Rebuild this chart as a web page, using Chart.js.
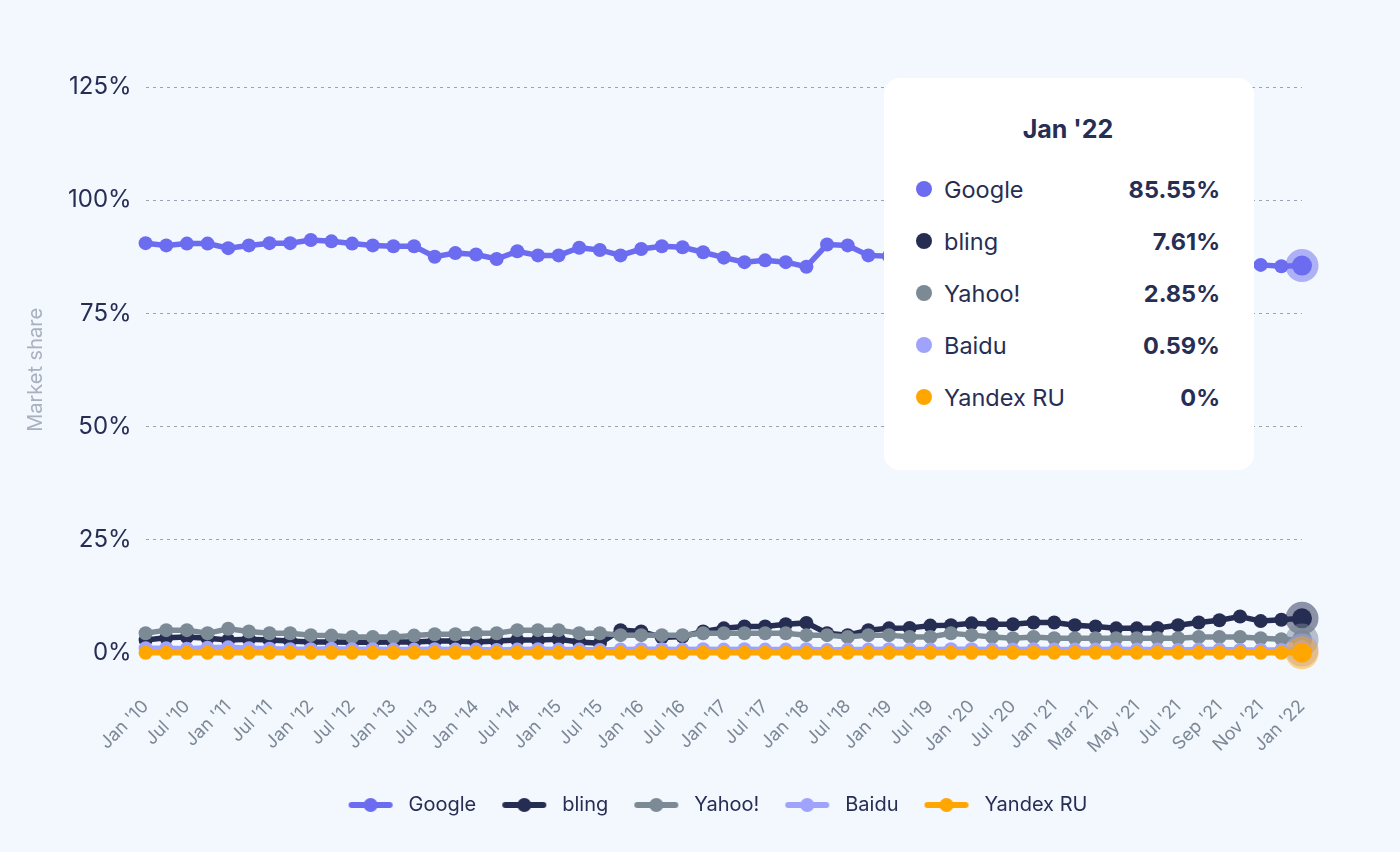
<!DOCTYPE html>
<html>
<head>
<meta charset="utf-8">
<script src="https://cdn.jsdelivr.net/npm/chart.js@4.4.1/dist/chart.umd.min.js"></script>
<style>
  html, body { margin: 0; padding: 0; background: #f3f7fe; }
  #wrap { position: relative; width: 1400px; height: 852px; }
  #chartTooltip {
    position: absolute; width: 370px; box-sizing: border-box;
    padding: 36px 34px 47px 32px; background: #ffffff; border-radius: 16px;
    font-family: Inter, sans-serif; color: #272e54; pointer-events: none;
  }
  #chartTooltip .tt-title { text-align: center; font-weight: 700; font-size: 25px; line-height: 30px; margin-bottom: 19px; }
  #chartTooltip .tt-row { display: flex; align-items: center; height: 52px; font-size: 23.5px; }
  #chartTooltip .tt-dot { width: 16px; height: 16px; border-radius: 50%; margin-right: 12px; }
  #chartTooltip .tt-name { flex: 1; }
  #chartTooltip .tt-val { font-weight: 700; }
</style>
</head>
<body>
<div id="wrap">
  <canvas id="myChart"></canvas>
  <div id="chartTooltip"></div>
</div>
<script>
/* categories: quarterly until Jan '21, then monthly */
const categories = [
  "Jan '10", "Apr '10", "Jul '10", "Oct '10", "Jan '11", "Apr '11", "Jul '11", "Oct '11",
  "Jan '12", "Apr '12", "Jul '12", "Oct '12", "Jan '13", "Apr '13", "Jul '13", "Oct '13",
  "Jan '14", "Apr '14", "Jul '14", "Oct '14", "Jan '15", "Apr '15", "Jul '15", "Oct '15",
  "Jan '16", "Apr '16", "Jul '16", "Oct '16", "Jan '17", "Apr '17", "Jul '17", "Oct '17",
  "Jan '18", "Apr '18", "Jul '18", "Oct '18", "Jan '19", "Apr '19", "Jul '19", "Oct '19",
  "Jan '20", "Apr '20", "Jul '20", "Oct '20", "Jan '21", "Feb '21", "Mar '21", "Apr '21",
  "May '21", "Jun '21", "Jul '21", "Aug '21", "Sep '21", "Oct '21", "Nov '21", "Dec '21",
  "Jan '22"
];

/* market share in % */
const google = [
  90.5, 90.0, 90.4, 90.4, 89.4, 90.0, 90.5, 90.5, 91.2, 90.9, 90.4, 90.0, 89.8, 89.8, 87.5, 88.3,
  88.0, 87.0, 88.7, 87.8, 87.8, 89.5, 89.0, 87.8, 89.2, 89.8, 89.6, 88.5, 87.3, 86.3, 86.7, 86.3,
  85.3, 90.2, 90.0, 87.8, 87.6, 88.3, 87.2, 86.8, 87.9, 88.4, 87.7, 87.0, 86.6, 87.1, 86.4, 86.9,
  87.2, 86.5, 86.0, 86.4, 85.8, 86.1, 85.7, 85.4, 85.55
];
const bling = [
  2.8, 3.3, 3.5, 3.2, 2.8, 3.0, 2.8, 2.6, 2.4, 2.4, 2.3, 2.3, 2.4, 2.4, 2.6, 2.6,
  2.4, 2.6, 2.8, 2.8, 3.0, 2.4, 2.1, 5.0, 4.7, 3.4, 3.6, 4.7, 5.4, 5.8, 5.8, 6.3,
  6.6, 4.3, 3.9, 5.0, 5.4, 5.5, 6.0, 6.1, 6.5, 6.3, 6.3, 6.7, 6.7, 6.1, 5.8, 5.4,
  5.4, 5.5, 6.1, 6.7, 7.2, 8.0, 7.0, 7.3, 7.61
];
const yahoo = [
  4.3, 5.0, 5.0, 4.3, 5.3, 4.7, 4.3, 4.3, 3.9, 3.8, 3.5, 3.5, 3.5, 3.8, 4.1, 4.1,
  4.3, 4.3, 5.0, 5.0, 5.0, 4.3, 4.3, 3.9, 3.9, 3.9, 3.9, 4.3, 4.3, 4.3, 4.3, 4.3,
  3.9, 3.9, 3.5, 3.9, 3.9, 3.5, 3.5, 4.3, 3.9, 3.5, 3.2, 3.5, 3.2, 3.2, 3.2, 3.2,
  3.2, 3.2, 3.2, 3.5, 3.5, 3.5, 3.2, 3.0, 2.85
];
const baidu = [
  1.0, 1.0, 0.9, 1.1, 1.2, 1.0, 0.9, 0.8, 0.8, 0.9, 0.8, 0.8, 0.7, 0.7, 0.8, 0.7,
  0.7, 0.6, 0.7, 0.8, 0.7, 0.7, 0.6, 0.7, 0.8, 0.8, 0.7, 0.8, 0.7, 0.8, 0.7, 0.7,
  0.8, 0.6, 0.7, 0.7, 0.8, 0.7, 0.7, 0.8, 0.8, 0.7, 0.7, 0.8, 0.7, 0.7, 0.7, 0.8,
  0.7, 0.7, 0.6, 0.7, 0.7, 0.6, 0.6, 0.6, 0.59
];
const yandex = [
  0, 0, 0, 0, 0, 0, 0, 0, 0, 0, 0, 0, 0, 0, 0, 0,
  0, 0, 0, 0, 0, 0, 0, 0, 0, 0, 0, 0, 0, 0, 0, 0,
  0, 0, 0, 0, 0, 0, 0, 0, 0, 0, 0, 0, 0, 0, 0, 0,
  0, 0, 0, 0, 0, 0, 0, 0, 0
];
const yTicks = [0, 25, 50, 75, 100, 125];

const ink = '#272e54';
const fontFamily = 'Inter, sans-serif';

/* line + dot swatch for the legend (with side margins) */
function swatch(color) {
  const c = document.createElement('canvas');
  c.width = 66; c.height = 16;
  const g = c.getContext('2d');
  g.strokeStyle = color; g.lineWidth = 6; g.lineCap = 'round';
  g.beginPath(); g.moveTo(19, 8); g.lineTo(57, 8); g.stroke();
  g.fillStyle = color;
  g.beginPath(); g.arc(38, 8, 7, 0, Math.PI * 2); g.fill();
  return c;
}

function makeSet(label, data, color, halo, order) {
  return {
    label: label,
    data: data,
    borderColor: color,
    backgroundColor: color,
    borderWidth: 5.5,
    pointRadius: 7,
    pointBorderWidth: 0,
    pointHoverRadius: 10,
    pointHoverBorderWidth: 13,
    pointHoverBackgroundColor: color,
    pointHoverBorderColor: halo,
    tension: 0,
    clip: false,
    order: order,
  };
}

/* html tooltip */
function externalTooltip(context) {
  const chart = context.chart;
  const tooltip = context.tooltip;
  const el = document.getElementById('chartTooltip');
  if (tooltip.opacity === 0) {
    el.style.opacity = 0;
    return;
  }
  const points = tooltip.dataPoints.slice().sort((a, b) => a.datasetIndex - b.datasetIndex);
  let html = '<div class="tt-title">' + tooltip.title[0] + '</div>';
  points.forEach(p => {
    html += '<div class="tt-row"><span class="tt-dot" style="background:' + p.dataset.borderColor + '"></span>' +
      '<span class="tt-name">' + p.dataset.label + '</span><span class="tt-val">' + p.raw + '%</span></div>';
  });
  el.innerHTML = html;
  el.style.opacity = 1;
  el.style.left = (tooltip.caretX - 418) + 'px';
  el.style.top = (chart.chartArea.top - 9) + 'px';
}

let ctx = document.getElementById('myChart').getContext('2d');
let myChart = new Chart(ctx, {
  type: 'line',
  data: {
    labels: categories,
    datasets: [
      makeSet('Google', google, '#6c6cf0', 'rgba(108,108,240,0.5)', 5),
      makeSet('bling', bling, '#262d52', 'rgba(38,45,82,0.5)', 4),
      makeSet('Yahoo!', yahoo, '#7c8a95', 'rgba(124,138,149,0.5)', 3),
      makeSet('Baidu', baidu, '#a0a3fb', 'rgba(160,163,251,0.5)', 2),
      makeSet('Yandex RU', yandex, '#ffa600', 'rgba(255,166,0,0.45)', 1),
    ]
  },
  options: {
    responsive: true,
    maintainAspectRatio: false,
    animation: false,
    events: [],
    layout: { padding: { top: 87, right: 0, left: 20, bottom: 27 } },
    interaction: { mode: 'index', intersect: false },
    scales: {
      x: {
        grid: { display: false, drawTicks: false },
        border: { display: false },
        afterFit: (axis) => { axis.height -= 15; },
        ticks: {
          autoSkip: false,
          maxRotation: 45,
          minRotation: 45,
          padding: 43,
          color: '#7d8896',
          font: { family: fontFamily, size: 18 },
          callback: function (value, index) {
            return index % 2 === 0 ? this.getLabelForValue(value) : '';
          }
        }
      },
      y: {
        min: 0,
        max: 125,
        afterBuildTicks: (axis) => { axis.ticks = yTicks.map(v => ({ value: v })); },
        grid: {
          drawTicks: false,
          color: (c) => (c.tick && c.tick.value === 0 ? 'rgba(0,0,0,0)' : '#9aa1b5'),
        },
        border: { display: false, dash: [3, 4] },
        ticks: {
          padding: 14,
          color: ink,
          font: { family: fontFamily, size: 24 },
          callback: (v) => v + '%'
        },
        title: {
          display: true,
          text: 'Market share',
          color: '#a9b1bf',
          padding: { top: 4, bottom: 6 },
          font: { family: fontFamily, size: 20 }
        }
      },
      /* empty right-hand gutter */
      gutter: {
        type: 'linear',
        position: 'right',
        grid: { display: false, drawTicks: false },
        border: { display: false },
        ticks: { display: false },
        afterFit: (axis) => { axis.width = 98; }
      }
    },
    plugins: {
      legend: {
        position: 'bottom',
        labels: {
          usePointStyle: true,
          pointStyleWidth: 66,
          padding: 10,
          color: ink,
          font: { family: fontFamily, size: 20 },
          generateLabels: (chart) => chart.data.datasets.map((d, i) => ({
            text: d.label,
            pointStyle: swatch(d.borderColor),
            fontColor: ink,
            hidden: false,
            lineWidth: 0,
            datasetIndex: i,
          }))
        }
      },
      tooltip: {
        enabled: false,
        external: externalTooltip,
      }
    }
  }
});

/* show the last month as hovered */
const last = categories.length - 1;
const active = myChart.data.datasets.map((d, i) => ({ datasetIndex: i, index: last }));
myChart.setActiveElements(active);
myChart.tooltip.setActiveElements(active, { x: 0, y: 0 });
myChart.update();
</script>
</body>
</html>
